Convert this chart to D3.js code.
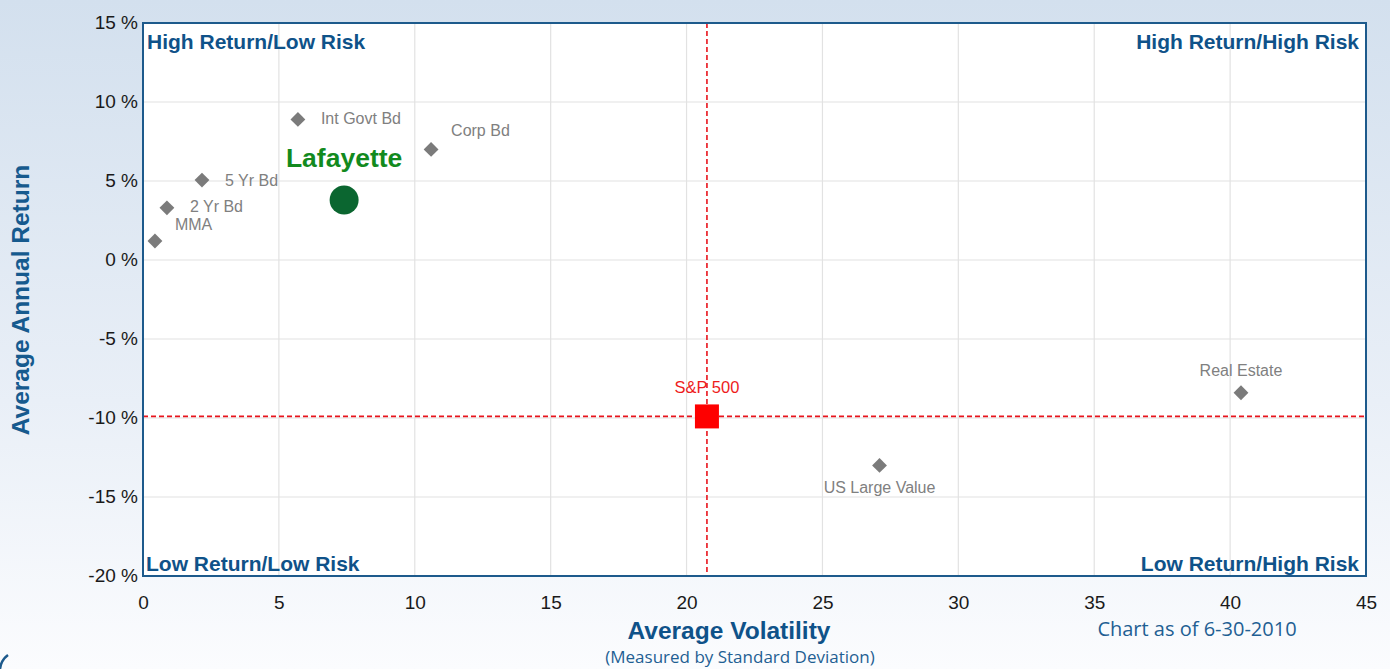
<!DOCTYPE html>
<html><head><meta charset="utf-8">
<script src="https://cdn.jsdelivr.net/npm/d3@7"></script>
<style>
html,body{margin:0;padding:0;}
body{width:1390px;height:669px;overflow:hidden;font-family:Arial,"Liberation Sans",sans-serif;}
</style></head>
<body>
<svg id="c" width="1390" height="669"></svg>
<script>
// ---- data ----
const names = ["MMA","2 Yr Bd","5 Yr Bd","Int Govt Bd","Corp Bd","US Large Value","Real Estate"];
const volatility = [0.44, 0.88, 2.17, 5.7, 10.6, 27.1, 40.4];
const returns = [1.2, 3.3, 5.06, 8.9, 7.0, -13.0, -8.4];
const fundName = "Lafayette";
const fundPoint = [7.4, 3.8];
const benchName = "S&P 500";
const benchPoint = [20.75, -9.9];
const xTicks = [0,5,10,15,20,25,30,35,40,45];
const yTicks = [15,10,5,0,-5,-10,-15,-20];
const quadrants = ["High Return/Low Risk","High Return/High Risk","Low Return/Low Risk","Low Return/High Risk"];

// ---- label layout (styling, not data) ----
const labelLayout = {
  "MMA":{dx:20,dy:-11,anchor:"start"},
  "2 Yr Bd":{dx:23,dy:4,anchor:"start"},
  "5 Yr Bd":{dx:23,dy:6,anchor:"start"},
  "Int Govt Bd":{dx:23,dy:5,anchor:"start"},
  "Corp Bd":{dx:20,dy:-13,anchor:"start"},
  "US Large Value":{dx:0,dy:28,anchor:"middle"},
  "Real Estate":{dx:0,dy:-17,anchor:"middle"}
};

const svg = d3.select("#c");
const defs = svg.append("defs");
const bg = defs.append("linearGradient").attr("id","bg").attr("x1",0).attr("y1",0).attr("x2",0).attr("y2",1);
bg.append("stop").attr("offset","0%").attr("stop-color","#d3e0ee");
bg.append("stop").attr("offset","60%").attr("stop-color","#e9eff7");
bg.append("stop").attr("offset","100%").attr("stop-color","#fbfcfe");
svg.append("rect").attr("width",1390).attr("height",669).attr("fill","url(#bg)");
svg.append("path").attr("d","M0,669 A20,20 0 0 1 8,655").attr("fill","none").attr("stroke","#1d5a8c").attr("stroke-width",2.5);

const L=143, R=1366, T=23, B=576;
const x = d3.scaleLinear().domain([0,45]).range([L,R]);
const y = d3.scaleLinear().domain([-20,15]).range([B,T]);

svg.append("rect").attr("x",L).attr("y",T).attr("width",R-L).attr("height",B-T).attr("fill","#fff");

// grid
const g = svg.append("g");
g.selectAll(".vx").data(xTicks.slice(1,-1)).join("line")
  .attr("x1",d=>x(d)).attr("x2",d=>x(d)).attr("y1",T).attr("y2",B)
  .attr("stroke","#e2e2e2").attr("stroke-width",1.2);
g.selectAll(".hy").data(yTicks.slice(1,-1)).join("line")
  .attr("y1",d=>y(d)).attr("y2",d=>y(d)).attr("x1",L).attr("x2",R)
  .attr("stroke","#e2e2e2").attr("stroke-width",1.2);

// axes
const xAxis = d3.axisBottom(x).tickValues(xTicks).tickSize(0).tickPadding(20).tickFormat(d3.format("d"));
const yAxis = d3.axisLeft(y).tickValues(yTicks).tickSize(0).tickPadding(5).tickFormat(d=>d+" %");
const gx = svg.append("g").attr("transform",`translate(0,${B})`).call(xAxis);
const gy = svg.append("g").attr("transform",`translate(${L},0)`).call(yAxis);
[gx,gy].forEach(a=>{a.select(".domain").remove();a.selectAll("text").attr("font-size",19).attr("fill","#1a1a1a").attr("font-family","Arial, Liberation Sans, sans-serif");});
gy.selectAll("text").attr("dy","0.28em");

// crosshair
svg.append("line").attr("x1",x(benchPoint[0])).attr("x2",x(benchPoint[0])).attr("y1",T).attr("y2",B)
  .attr("stroke","#e8141c").attr("stroke-width",1.6).attr("stroke-dasharray","5,3");
svg.append("line").attr("y1",y(benchPoint[1])).attr("y2",y(benchPoint[1])).attr("x1",L).attr("x2",R)
  .attr("stroke","#e8141c").attr("stroke-width",1.6).attr("stroke-dasharray","5,3");

// border
svg.append("rect").attr("x",L).attr("y",T).attr("width",R-L).attr("height",B-T)
  .attr("fill","none").attr("stroke","#1d5a8c").attr("stroke-width",2);

// quadrant labels
const qpos = [
  {x:L+4,y:T+26,a:"start"},{x:R-7,y:T+26,a:"end"},
  {x:L+3,y:B-5,a:"start"},{x:R-7,y:B-5,a:"end"}];
svg.selectAll(".q").data(quadrants).join("text")
  .attr("x",(d,i)=>qpos[i].x).attr("y",(d,i)=>qpos[i].y).attr("text-anchor",(d,i)=>qpos[i].a)
  .attr("font-size",21).attr("font-weight","bold").attr("fill","#0f5289").text(d=>d);

// asset points
const pts = names.map((n,i)=>({n,v:volatility[i],r:returns[i]}));
svg.selectAll(".pt").data(pts).join("path")
  .attr("d",d3.symbol(d3.symbolSquare,110)())
  .attr("transform",d=>`translate(${x(d.v)},${y(d.r)}) rotate(45)`)
  .attr("fill","#7b7b7b");
svg.selectAll(".pl").data(pts).join("text")
  .attr("x",d=>x(d.v)+labelLayout[d.n].dx).attr("y",d=>y(d.r)+labelLayout[d.n].dy)
  .attr("text-anchor",d=>labelLayout[d.n].anchor)
  .attr("font-size",16).attr("fill","#808080").text(d=>d.n);

// fund
svg.append("circle").attr("cx",x(fundPoint[0])).attr("cy",y(fundPoint[1])).attr("r",14.5).attr("fill","#0b6630");
svg.append("text").attr("x",x(fundPoint[0])).attr("y",y(fundPoint[1])-33).attr("text-anchor","middle")
  .attr("font-size",26.5).attr("font-weight","bold").attr("fill","#128a1e").text(fundName);

// benchmark
svg.append("rect").attr("x",x(benchPoint[0])-12).attr("y",y(benchPoint[1])-12).attr("width",24).attr("height",24).attr("fill","#fe0000");
svg.append("text").attr("x",x(benchPoint[0])).attr("y",y(benchPoint[1])-23).attr("text-anchor","middle")
  .attr("font-size",16.5).attr("fill","#ee1c1c").text(benchName);

// titles
svg.append("text").attr("transform","translate(29,300) rotate(-90)").attr("text-anchor","middle")
  .attr("font-size",24.5).attr("font-weight","bold").attr("fill","#165a8e").text("Average Annual Return");
svg.append("text").attr("x",729).attr("y",639).attr("text-anchor","middle")
  .attr("font-size",24.5).attr("font-weight","bold").attr("fill","#0f5289").text("Average Volatility");
svg.append("text").attr("x",740).attr("y",663).attr("text-anchor","middle")
  .attr("font-size",17).attr("fill","#1f5f93").attr("font-family","Open Sans, sans-serif").text("(Measured by Standard Deviation)");
svg.append("text").attr("x",1197).attr("y",636).attr("text-anchor","middle")
  .attr("font-size",20).attr("fill","#1f5f93").attr("font-family","Open Sans, sans-serif").text("Chart as of 6-30-2010");
</script>
</body></html>
